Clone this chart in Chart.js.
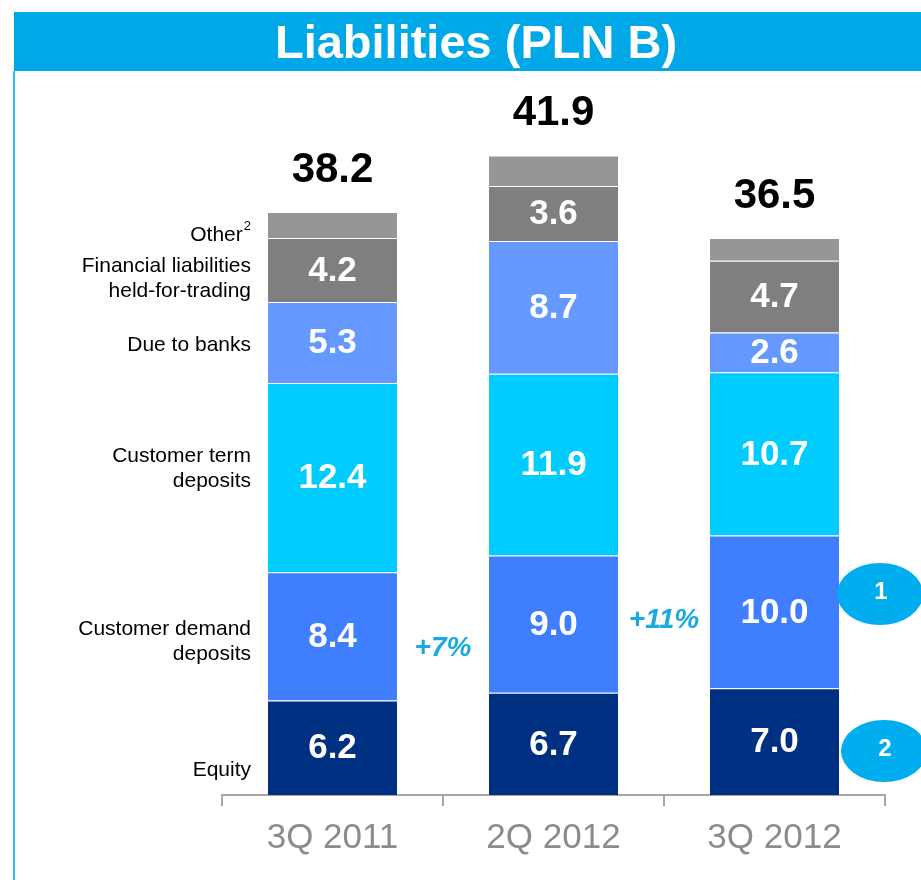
<!DOCTYPE html>
<html lang="en">
<head>
	<meta charset="UTF-8">
	<title>Liabilities (PLN B)</title>
	<script src="https://cdn.jsdelivr.net/npm/chart.js"></script>
	<style>
		html, body { margin: 0; padding: 0; background: #fff; }
		#wrap { width: 921px; height: 880px; }
	</style>
</head>
<body>
	<div id="wrap"><canvas id="myChart" width="921" height="880"></canvas></div>

	<script>
		// data, bottom segment first
		const periods = ['3Q 2011', '2Q 2012', '3Q 2012'];
		const equity = [6.2, 6.7, 7.0];
		const demandDeposits = [8.4, 9.0, 10.0];
		const termDeposits = [12.4, 11.9, 10.7];
		const dueToBanks = [5.3, 8.7, 2.6];
		const heldForTrading = [4.2, 3.6, 4.7];
		const other = [1.7, 2.0, 1.5];
		const totals = [38.2, 41.9, 36.5];
		const growthLabels = ['+7%', '+11%'];
		const seriesNames = ['Equity', ['Customer demand', 'deposits'], ['Customer term', 'deposits'],
			'Due to banks', ['Financial liabilities', 'held-for-trading'], 'Other'];

		const colors = ['#003082', '#3F7FFF', '#00CCFF', '#6699FF', '#7F7F7F', '#969696'];
		const FONT = 'Arial, "Liberation Sans", sans-serif';

		const series = [equity, demandDeposits, termDeposits, dueToBanks, heldForTrading, other];

		const extras = {
			id: 'extras',
			beforeDraw(chart) {
				const c = chart.ctx;
				c.save();
				c.fillStyle = '#fff';
				c.fillRect(0, 0, chart.width, chart.height);
				// title band
				c.fillStyle = '#00A8E8';
				c.fillRect(14, 12, chart.width - 14, 59);
				// left frame line
				c.fillStyle = '#2EC4F5';
				c.fillRect(13, 71, 2, chart.height - 71);
				c.fillStyle = '#fff';
				c.font = 'bold 47px ' + FONT;
				c.textAlign = 'center';
				c.textBaseline = 'alphabetic';
				c.fillText('Liabilities (PLN B)', 476, 58);
				c.restore();
			},
			afterDatasetsDraw(chart) {
				const c = chart.ctx;
				const y = chart.scales.y;
				c.save();
				c.textAlign = 'center';
				c.textBaseline = 'middle';

				// values inside segments (not on "Other")
				c.fillStyle = '#fff';
				c.font = 'bold 35px ' + FONT;
				for (let d = 0; d < series.length - 1; d++) {
					chart.getDatasetMeta(d).data.forEach((el, i) => {
						c.fillText(series[d][i].toFixed(1), el.x, (el.y + el.base) / 2 + 1);
					});
				}

				// totals above bars
				c.fillStyle = '#000';
				c.font = 'bold 42px ' + FONT;
				const top = chart.getDatasetMeta(series.length - 1).data;
				top.forEach((el, i) => {
					c.fillText(totals[i].toFixed(1), el.x, y.getPixelForValue(totals[i]) - 42);
				});

				// series names left of first bar
				const first = series.map((s, d) => chart.getDatasetMeta(d).data[0]);
				const shift = [23, 5, -9, 3, 9, 10];
				const rx = 251;
				c.textAlign = 'right';
				c.font = '21px ' + FONT;
				c.fillStyle = '#000';
				seriesNames.forEach((name, d) => {
					const el = first[d];
					const cy = (el.y + el.base) / 2 + shift[d];
					const lines = Array.isArray(name) ? name : [name];
					lines.forEach((ln, k) => {
						const ly = cy + (k - (lines.length - 1) / 2) * 25;
						if (d === series.length - 1) {
							c.font = '13px ' + FONT;
							const sw = c.measureText('2').width;
							c.fillText('2', rx, ly - 9);
							c.font = '21px ' + FONT;
							c.fillText(ln, rx - sw - 1, ly);
						} else {
							c.fillText(ln, rx, ly);
						}
					});
				});

				// growth figures between bars
				const bx = chart.getDatasetMeta(0).data.map(el => el.x);
				c.textAlign = 'center';
				c.fillStyle = '#1AAAE2';
				c.font = 'italic bold 28px ' + FONT;
				c.fillText(growthLabels[0], (bx[0] + bx[1]) / 2, 648);
				c.fillText(growthLabels[1], (bx[1] + bx[2]) / 2, 620);

				// numbered bubbles on the right
				[['1', 880, 594], ['2', 884, 751]].forEach(([t, ex, ey]) => {
					c.fillStyle = '#00AEEF';
					c.beginPath();
					c.ellipse(ex, ey, 43, 31, 0, 0, Math.PI * 2);
					c.fill();
					c.fillStyle = '#fff';
					c.font = 'bold 24px ' + FONT;
					c.fillText(t, ex + 1, ey - 2);
				});
				c.restore();
			}
		};

		new Chart(document.getElementById('myChart'), {
			type: 'bar',
			data: {
				labels: periods,
				datasets: series.map((s, d) => ({
					label: Array.isArray(seriesNames[d]) ? seriesNames[d].join(' ') : seriesNames[d],
					data: s,
					backgroundColor: colors[d],
					borderColor: 'rgba(255,255,255,0.55)',
					borderWidth: { top: 1 },
					borderSkipped: false,
					categoryPercentage: 1,
					barPercentage: 0.584
				}))
			},
			options: {
				responsive: false,
				animation: false,
				events: [],
				layout: { padding: { left: 222, right: 36, top: 80, bottom: 10 } },
				plugins: { legend: { display: false }, tooltip: { enabled: false }, title: { display: false } },
				scales: {
					x: {
						stacked: true,
						offset: true,
						grid: { display: true, offset: true, drawOnChartArea: false, drawTicks: true, tickLength: 11, color: '#A6A6A6', lineWidth: 2 },
						border: { display: true, color: '#A6A6A6', width: 2 },
						ticks: { color: '#8C8C8C', padding: 11, font: { family: FONT, size: 35 } }
					},
					y: {
						stacked: true,
						display: false,
						min: 0,
						max: 46.85
					}
				}
			},
			plugins: [extras]
		});
	</script>
</body>
</html>
